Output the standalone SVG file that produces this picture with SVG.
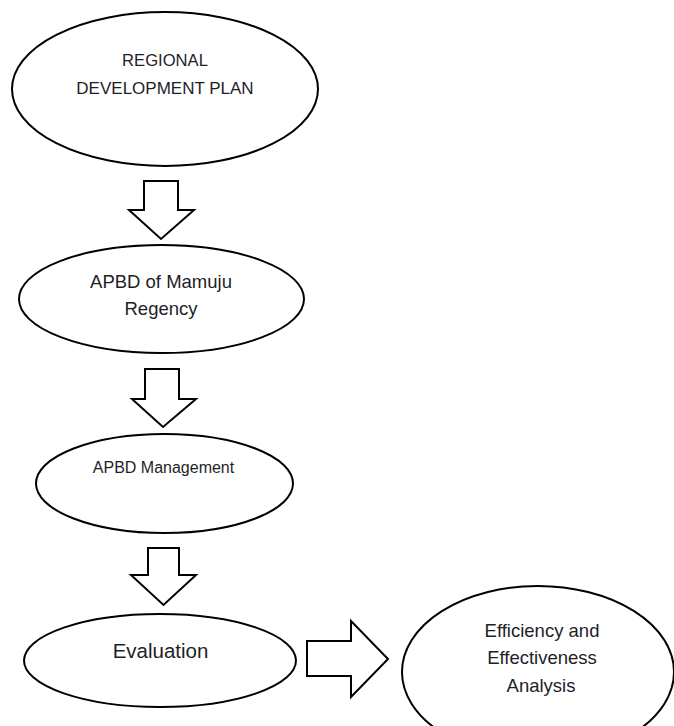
<svg xmlns="http://www.w3.org/2000/svg" width="674" height="726" viewBox="0 0 674 726">
<style>
.node ellipse{fill:#fff;stroke:#000;stroke-width:2}
.arrow{fill:#fff;stroke:#000;stroke-width:2;stroke-linejoin:miter}
text{font-family:"Liberation Sans",Arial,sans-serif;fill:#1e1e28;text-anchor:middle}
</style>
<rect width="674" height="726" fill="#fff"/>
<g id="connectors">
<polygon class="arrow" points="144,181 178,181 178,210 194,210 161,239 129,210 144,210"/>
<polygon class="arrow" points="145,369 179,369 179,399 196,399 163,427 132,399 145,399"/>
<polygon class="arrow" points="148,548 179,548 179,575 196,575 163.5,605 131,575 148,575"/>
<polygon class="arrow" points="307,641 351,641 351,621 388,659 351,697 351,676 307,676"/>
</g>
<g id="n1" class="node">
<ellipse cx="165" cy="89" rx="153" ry="77"/>
<text x="165" y="66" font-size="16.6">REGIONAL</text>
<text x="165" y="94" font-size="17">DEVELOPMENT PLAN</text>
</g>
<g id="n2" class="node">
<ellipse cx="161.5" cy="299" rx="142.5" ry="54"/>
<text x="161" y="288" font-size="18.5">APBD of Mamuju</text>
<text x="161" y="315" font-size="18.5">Regency</text>
</g>
<g id="n3" class="node">
<ellipse cx="164.5" cy="483.5" rx="128.5" ry="49.5"/>
<text x="163.5" y="472.5" font-size="16">APBD Management</text>
</g>
<g id="n4" class="node">
<ellipse cx="160" cy="660.5" rx="136" ry="46.5"/>
<text x="160.5" y="658" font-size="20.5">Evaluation</text>
</g>
<g id="n5" class="node">
<ellipse cx="538" cy="672" rx="136" ry="86"/>
<text x="542" y="637" font-size="18.5">Efficiency and</text>
<text x="542" y="664" font-size="18.5">Effectiveness</text>
<text x="541" y="692" font-size="18.5">Analysis</text>
</g>
</svg>
